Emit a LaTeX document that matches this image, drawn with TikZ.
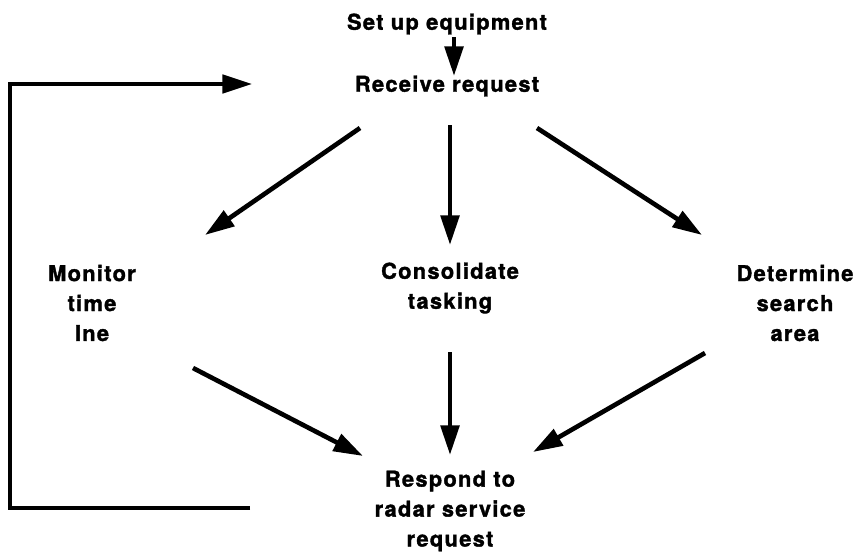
\documentclass[tikz,border=0pt]{standalone}
\usepackage{fontspec}
\setmainfont{TeX Gyre Heros}[LetterSpace=6,BoldFeatures={FakeBold=1.6}]
\usetikzlibrary{arrows.meta,calc}

\begin{document}
\begin{tikzpicture}[x=0.025cm,y=-0.025cm,->,>={Triangle[length=21pt,width=13pt]},line width=3.3pt]
  \tikzstyle{every node}=[font=\bfseries\fontsize{15.5}{21.3}\selectfont,align=center,inner sep=0pt]
  \useasboundingbox (0,0) rectangle (859,552);

  \node (setup) at (447,24)  {Set up equipment};
  \node (recv)  at (447,86)  {Receive request};
  \node (mon)   at (92,303)  {Monitor\\time\\Ine};
  \node (cons)  at (450,288) {Consolidate\\tasking};
  \node (det)   at (795,303) {Determine\\search\\area};
  \node (resp)  at (450,511) {Respond to\\radar service\\request};

  \path
  ($(setup)+(7,13)$)   edge ($(recv)+(7,-10)$)
  ($(recv)+(-87,42)$)  edge ($(mon)+(113,-68)$)
  ($(recv)+(3,39)$)    edge ($(cons)+(0,-43)$)
  ($(recv)+(90,42)$)   edge ($(det)+(-93,-68)$)
  ($(mon)+(101,65)$)   edge ($(resp)+(-87,-55)$)
  ($(cons)+(0,64)$)    edge ($(resp)+(0,-56)$)
  ($(det)+(-90,50)$)   edge ($(resp)+(83,-59)$);

  % back to the next request
  \draw[line width=2.7pt] ($(resp)+(-200,-3)$) -- ++(-240,0) |- ($(recv)+(-195,-2)$);
\end{tikzpicture}
\end{document}
